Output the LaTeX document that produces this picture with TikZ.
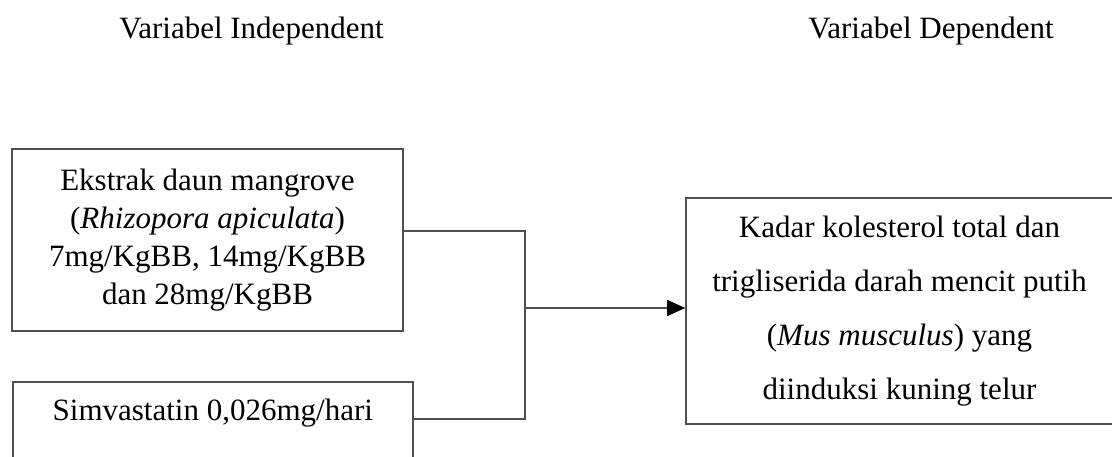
\documentclass[tikz,border=0pt]{standalone}
\usepackage{fontspec}
\setmainfont{Liberation Serif}
\usetikzlibrary{arrows.meta}
\definecolor{linegray}{HTML}{505050}
\tikzset{
  box/.style={draw=linegray, line width=1.6pt, rectangle, inner sep=0pt, align=center},
  conn/.style={draw=linegray, line width=1.6pt},
  title/.style={inner sep=0pt, font=\fontsize{31}{36}\selectfont},
}
\begin{document}
\begin{tikzpicture}[x=1pt,y=1pt]
\useasboundingbox (0,0) rectangle (1112,-457);
\clip (0,0) rectangle (1112,-457);
\fill[white] (0,0) rectangle (1112,-457);
\node[title] (ti) at (251.5,-31) {Variabel Independent};
\node[title] (td) at (931,-31) {Variabel Dependent};
\node[box, minimum width=391pt, minimum height=182pt, font=\fontsize{31}{38}\selectfont] (b1) at (207.5,-240)
  {Ekstrak daun mangrove\\(\textit{Rhizopora apiculata})\\7mg/KgBB, 14mg/KgBB\\dan 28mg/KgBB};
\node[box, anchor=north west, minimum width=400pt, text height=21pt, text depth=70pt, inner ysep=18pt, font=\fontsize{31}{38}\selectfont] (b2) at (12,-381)
  {Simvastatin 0,026mg/hari};
\node[box, minimum width=427pt, minimum height=226pt, font=\fontsize{31}{54}\selectfont] (b3) at (899.5,-311)
  {Kadar kolesterol total dan\\trigliserida darah mencit putih\\(\textit{Mus musculus}) yang\\diinduksi kuning telur};
\coordinate (j1) at (525,-231);
\coordinate (j2) at (525,-419);
\coordinate (jm) at (525,-308);
\draw[conn] (b1.east |- j1) -- (j1) -- (j2) -- (b2.east |- j2);
\draw[conn, -{Triangle[length=18pt,width=16pt,color=black]}] (jm) -- (b3.west |- jm);
\end{tikzpicture}
\end{document}
